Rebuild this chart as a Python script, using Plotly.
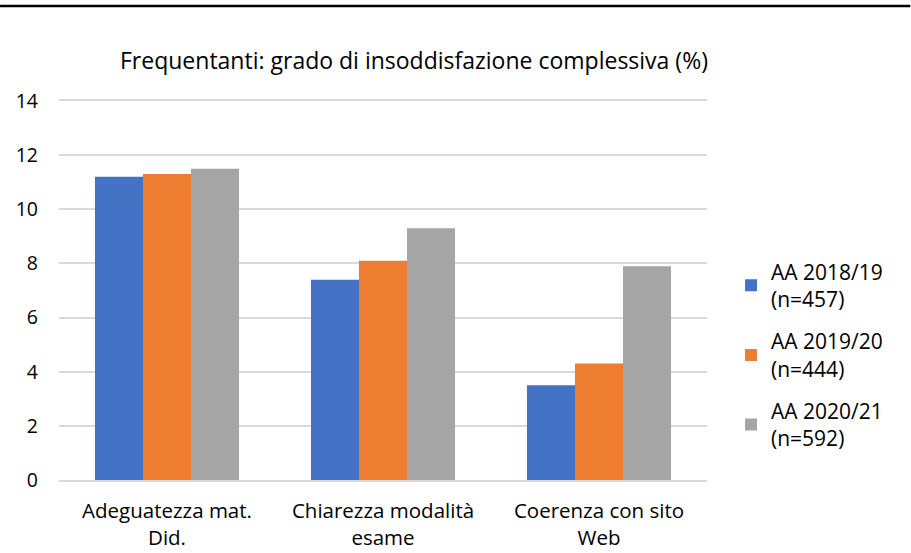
import plotly.graph_objects as go

categories = ["Adeguatezza mat.<br>Did.", "Chiarezza modalità<br>esame", "Coerenza con sito<br>Web"]
series_names = ["AA 2018/19<br>(n=457)", "AA 2019/20<br>(n=444)", "AA 2020/21<br>(n=592)"]
v2018 = [11.2, 7.4, 3.5]
v2019 = [11.3, 8.1, 4.3]
v2020 = [11.5, 9.3, 7.9]
colors = ["#4472C4", "#ED7D31", "#A5A5A5"]
y_ticks = [0, 2, 4, 6, 8, 10, 12, 14]

FONT = "Open Sans"
fig = go.Figure()
for i, (name, vals) in enumerate(zip(series_names, [v2018, v2019, v2020])):
    fig.add_trace(go.Bar(x=categories, y=vals, name=name, marker=dict(color=colors[i], line=dict(width=0)),
                         legendgroup=f"g{i}"))

W, H = 911, 553
L, R, T, B = 59, 911 - 707.5, 101, 553 - 480
pw, ph = W - L - R, H - T - B

fig.update_layout(
    width=W, height=H,
    margin=dict(l=L, r=R, t=T, b=B, autoexpand=False),
    paper_bgcolor="white", plot_bgcolor="white",
    barmode="group", bargap=0.333, bargroupgap=0,
    font=dict(family=FONT, size=20.5, color="#000000"),
    showlegend=True,
    legend=dict(x=(751 - L) / pw - 0.03, y=1 - (355 - T) / ph, xanchor="left", yanchor="middle",
                font=dict(size=21), tracegroupgap=12, itemwidth=30),
    xaxis=dict(showgrid=False, showline=True, mirror=True, linecolor="#D9D9D9", linewidth=1.5,
               ticks="", ticklabelstandoff=12, tickfont=dict(size=20.5), automargin=False),
    yaxis=dict(range=[0, 14], tickvals=y_ticks, showgrid=True, gridcolor="#D9D9D9", gridwidth=1.5,
               zeroline=False, showline=False, ticks="", ticklabelstandoff=20, tickfont=dict(size=19.5),
               automargin=False),
    annotations=[dict(text="Frequentanti: grado di insoddisfazione complessiva (%)",
                      xref="paper", yref="paper", x=(414 - L) / pw, y=1 + (T - 60) / ph,
                      xanchor="center", yanchor="middle", showarrow=False,
                      font=dict(family=FONT, size=23, color="#000000"))],
    shapes=[dict(type="line", xref="paper", yref="paper", x0=-L / pw, x1=(W - L) / pw,
                 y0=1 + (T - 6) / ph, y1=1 + (T - 6) / ph, line=dict(color="black", width=2.5))],
)
fig.write_html("out.html", config={"displayModeBar": False},
               post_script="document.body.style.margin='0';document.body.style.overflow='hidden';")
